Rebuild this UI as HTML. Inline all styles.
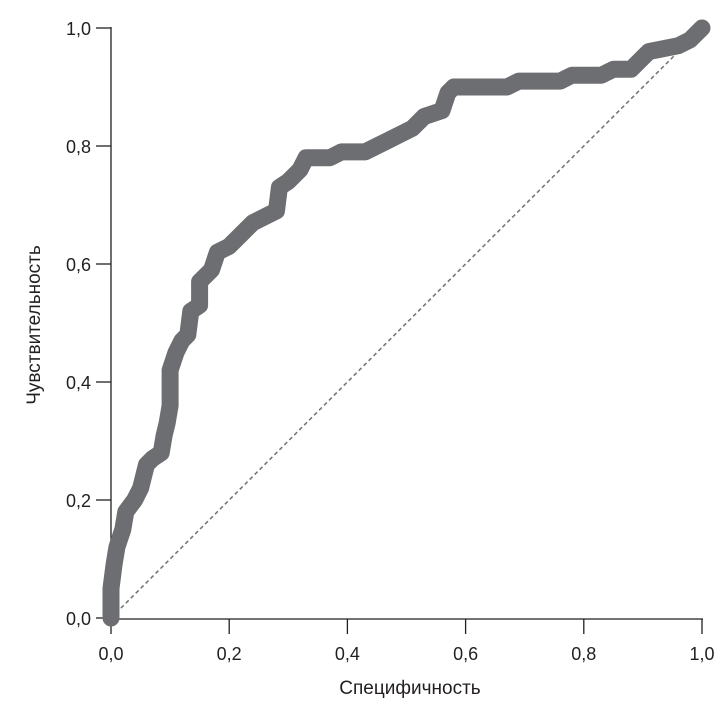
<!DOCTYPE html>
<html><head><meta charset="utf-8"><style>
body{margin:0;background:#fff;}
svg text{font-family:"Liberation Sans","DejaVu Sans",sans-serif;fill:#231f20;}
</style></head><body>
<svg id="chart" width="727" height="711">
<g id="axes"></g>
<g id="marks"></g>
<text x="410" y="694" text-anchor="middle" font-size="19">Специфичность</text>
<text transform="translate(40,325) rotate(-90)" text-anchor="middle" font-size="19">Чувствительность</text>
</svg>
<script>
const fpr=[0,0,0.005,0.01,0.02,0.025,0.04,0.05,0.06,0.07,0.085,0.09,0.095,0.1,0.1,0.11,0.12,0.13,0.135,0.15,0.15,0.17,0.18,0.2,0.22,0.24,0.26,0.28,0.285,0.3,0.32,0.33,0.37,0.39,0.43,0.45,0.47,0.49,0.51,0.52,0.53,0.56,0.57,0.58,0.67,0.69,0.76,0.78,0.83,0.85,0.88,0.9,0.91,0.96,0.98,1];
const tpr=[0,0.05,0.09,0.12,0.15,0.18,0.2,0.22,0.26,0.27,0.28,0.31,0.33,0.36,0.42,0.45,0.47,0.48,0.52,0.53,0.57,0.59,0.62,0.63,0.65,0.67,0.68,0.69,0.73,0.74,0.76,0.78,0.78,0.79,0.79,0.8,0.81,0.82,0.83,0.84,0.85,0.86,0.89,0.9,0.9,0.91,0.91,0.92,0.92,0.93,0.93,0.95,0.96,0.97,0.98,1];
const xTicks=["0,0","0,2","0,4","0,6","0,8","1,0"];
const yTicks=["0,0","0,2","0,4","0,6","0,8","1,0"];
const X=v=>111+v*591, Y=v=>618-v*590;
const NS="http://www.w3.org/2000/svg";
const axes=document.getElementById('axes'), marks=document.getElementById('marks');
function mk(tag,attrs,parent){const e=document.createElementNS(NS,tag);for(const k in attrs)e.setAttribute(k,attrs[k]);parent.appendChild(e);return e;}
let a=mk('line',{x1:111,y1:27,x2:111,y2:619,stroke:'#231f20','stroke-width':1.3},axes);


a=mk('line',{x1:110,y1:619,x2:703,y2:619,stroke:'#231f20','stroke-width':1.3},axes);


xTicks.forEach((t,i)=>{const v=i/5;
 const l=mk('line',{x1:X(v),y1:619,x2:X(v),y2:634,stroke:'#231f20','stroke-width':1.3},axes);
 
 
 const tx=mk('text',{x:X(v),y:660,'text-anchor':'middle','font-size':18},axes);tx.textContent=t;
 
 
});
yTicks.forEach((t,i)=>{const v=i/5;
 const l=mk('line',{x1:96,y1:Y(v),x2:111,y2:Y(v),stroke:'#231f20','stroke-width':1.3},axes);
 
 
 const tx=mk('text',{x:91,y:Y(v)+7,'text-anchor':'end','font-size':18},axes);tx.textContent=t;
 
 
});
let d=mk('line',{x1:X(0),y1:Y(0),x2:X(1),y2:Y(1),stroke:'#777','stroke-width':1.6,'stroke-dasharray':'4,3'},marks);


const pts=fpr.map((f,i)=>X(f).toFixed(1)+','+Y(tpr[i]).toFixed(1)).join(' ');
const c=mk('polyline',{points:pts,fill:'none',stroke:'#6d6e71','stroke-width':17,'stroke-linejoin':'round','stroke-linecap':'round'},marks);


</script>
</body></html>
